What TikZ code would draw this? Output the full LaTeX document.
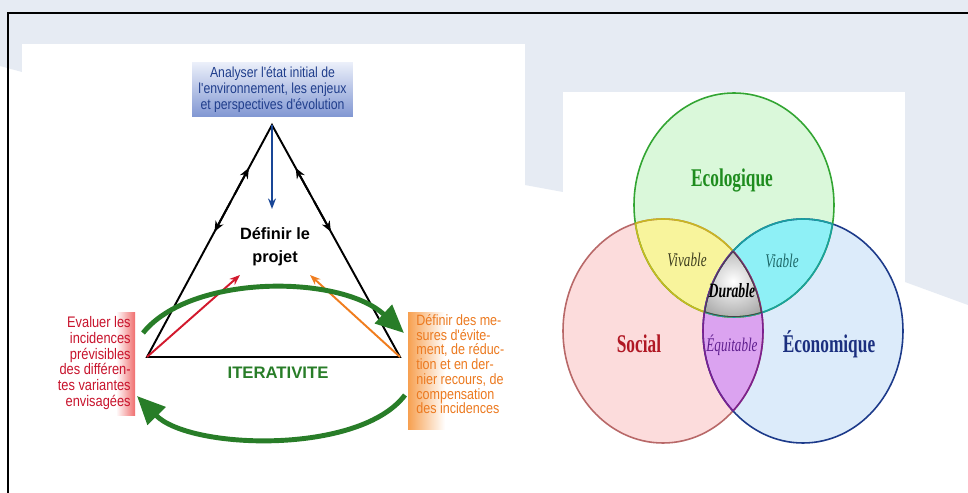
\documentclass[tikz,border=0pt]{standalone}
\usepackage{fontspec}
\setmainfont{Liberation Sans}
\newfontfamily\narrowsf[FakeStretch=0.84]{Liberation Sans}
\newfontfamily\condrm[FakeStretch=0.68]{Liberation Serif}
\usetikzlibrary{arrows.meta,calc}

\definecolor{slidebg}{RGB}{230,235,243}
\definecolor{boxtop}{RGB}{236,240,250}
\definecolor{boxbot}{RGB}{128,150,210}
\definecolor{etatblue}{RGB}{32,62,140}
\definecolor{evalred}{RGB}{200,20,45}
\definecolor{evalpink}{RGB}{240,110,110}
\definecolor{mesorange}{RGB}{236,122,32}
\definecolor{mesband}{RGB}{247,160,80}
\definecolor{itergreen}{RGB}{40,125,40}
\definecolor{arrowblue}{RGB}{25,70,150}
\definecolor{arrowred}{RGB}{210,25,45}
\definecolor{arroworange}{RGB}{240,125,30}
\definecolor{ecofill}{RGB}{218,248,218}
\definecolor{ecoline}{RGB}{50,165,50}
\definecolor{socfill}{RGB}{252,220,220}
\definecolor{socline}{RGB}{184,104,104}
\definecolor{econfill}{RGB}{220,235,250}
\definecolor{econline}{RGB}{28,58,138}
\definecolor{vivfill}{RGB}{248,244,156}
\definecolor{vivline}{RGB}{200,184,32}
\definecolor{viafill}{RGB}{142,240,246}
\definecolor{vialine}{RGB}{25,160,160}
\definecolor{equfill}{RGB}{219,163,240}
\definecolor{equline}{RGB}{122,32,144}
\definecolor{durgrey}{RGB}{165,165,165}
\definecolor{durline}{RGB}{70,70,70}
\definecolor{ecotext}{RGB}{30,140,30}
\definecolor{soctext}{RGB}{176,24,36}
\definecolor{econtext}{RGB}{27,47,127}
\definecolor{vivtext}{RGB}{60,60,30}
\definecolor{viatext}{RGB}{30,105,105}
\definecolor{equtext}{RGB}{95,30,143}

\newcommand\ecoshape{(734,205) ellipse [x radius=100,y radius=112]}
\newcommand\socshape{(663,331) ellipse [x radius=100,y radius=112]}
\newcommand\econshape{(803,331) ellipse [x radius=100,y radius=112]}

\begin{document}
\begin{tikzpicture}[x=0.02cm,y=-0.02cm,
  side/.style={black,line width=1.1pt},
  sidetip/.style={black,line width=1.1pt,-{Stealth[length=6pt,width=5pt]}},
  thinarrow/.style={line width=1.1pt,-{Stealth[length=6pt,width=4.5pt]}},
  iter/.style={itergreen,line width=2.8pt,-{Triangle[length=16pt,width=14pt]}},
  etatbox/.style={minimum width=3.22cm,minimum height=1.1cm,inner sep=0pt,
    top color=boxtop,bottom color=boxbot,text=etatblue,align=center,
    font=\narrowsf\fontsize{8.3}{9}\selectfont},
  evalstyle/.style={align=right,text=evalred,inner sep=0pt,
    font=\narrowsf\fontsize{8.7}{9}\selectfont},
  messtyle/.style={align=left,text=mesorange,inner sep=0pt,
    font=\narrowsf\fontsize{8.5}{8.4}\selectfont},
  projstyle/.style={align=center,inner sep=0pt,font=\bfseries\fontsize{9.3}{13}\selectfont},
  itertext/.style={text=itergreen,inner sep=0pt,font=\bfseries\fontsize{9.5}{11}\selectfont},
  vennbig/.style={inner sep=0pt,font=\condrm\bfseries\fontsize{14.5}{16}\selectfont},
  vennsmall/.style={inner sep=0pt,font=\condrm\itshape\fontsize{11}{13}\selectfont},
  venncircle/.style={line width=0.9pt}]
\useasboundingbox (0,0) rectangle (968,493);
\fill[white] (0,0) rectangle (968,493);
\fill[slidebg] (0,0) -- (968,0) -- (968,305) -- (905,282) -- (563,192) -- (525,185) -- (22,72) -- (0,66) -- cycle;
\fill[white] (22,44) rectangle (525,493);
\fill[white] (563,92) rectangle (905,493);
\draw[line width=1.2pt] (8,493) -- (8,13) -- (968,13);

\node[etatbox] (etat) at (272.5,89.5) {Analyser l'état initial de\\l'environnement, les enjeux\\et perspectives d'évolution};
\coordinate (apex) at (272,125);
\coordinate (bl) at (147,357);
\coordinate (br) at (400,357);
\draw[side] (apex) -- (bl) -- (br) -- cycle;
\draw[sidetip] ($(apex)!0.30!(bl)$) -- ($(apex)!0.185!(bl)$);
\draw[sidetip] ($(apex)!0.33!(bl)$) -- ($(apex)!0.46!(bl)$);
\draw[sidetip] ($(apex)!0.30!(br)$) -- ($(apex)!0.185!(br)$);
\draw[sidetip] ($(apex)!0.33!(br)$) -- ($(apex)!0.46!(br)$);
\node[projstyle,anchor=north] (projet) at (275,227) {Définir le\\projet};
\coordinate (bluetip) at (272,209);
\coordinate (redtip) at (240,275);
\coordinate (orangetip) at (310,275);
\draw[thinarrow,arrowblue] (apex) -- (bluetip);
\draw[thinarrow,arrowred] (bl) -- (redtip);
\draw[thinarrow,arroworange] (br) -- (orangetip);
\node[itertext,anchor=base] (iterativite) at (278,379) {ITERATIVITE};
\coordinate (iterA) at (143,333);
\coordinate (iterB) at (404,333);
\coordinate (iterC) at (405,395);
\coordinate (iterD) at (137,396);
\draw[iter] (iterA) .. controls (190,274) and (340,274) .. (iterB);
\draw[iter] (iterC) .. controls (360,455) and (190,450) .. (iterD);
\fill[left color=white,right color=evalpink] (116,313) rectangle (135,416);
\node[evalstyle,anchor=north east] (evaluer) at (131,316) {Evaluer les\\incidences\\prévisibles\\des différen-\\tes variantes\\envisagées};
\fill[left color=mesband,right color=white] (408,313) rectangle (445,430);
\node[messtyle,anchor=north west] (mesures) at (416,314) {Définir des me-\\sures d'évite-\\ment, de réduc-\\tion et en der-\\nier recours, de\\compensation\\des incidences};

\fill[socfill] \socshape;
\fill[econfill] \econshape;
\fill[ecofill] \ecoshape;
\begin{scope}
\clip \ecoshape;
\fill[vivfill] \socshape;
\fill[viafill] \econshape;
\end{scope}
\begin{scope}
\clip \socshape;
\fill[equfill] \econshape;
\end{scope}
\begin{scope}
\clip \ecoshape;
\clip \socshape;
\clip \econshape;
\shade[inner color=white,outer color=durgrey] (690,240) rectangle (776,322);
\end{scope}
\draw[venncircle,socline] \socshape;
\draw[venncircle,econline] \econshape;
\draw[venncircle,ecoline] \ecoshape;
\begin{scope}
\clip \socshape;
\draw[venncircle,vivline] \ecoshape;
\end{scope}
\begin{scope}
\clip \ecoshape;
\draw[venncircle,vivline] \socshape;
\end{scope}
\begin{scope}
\clip \ecoshape;
\draw[venncircle,vialine] \econshape;
\end{scope}
\begin{scope}
\clip \econshape;
\draw[venncircle,vialine] \ecoshape;
\end{scope}
\begin{scope}
\clip \socshape;
\draw[venncircle,equline] \econshape;
\end{scope}
\begin{scope}
\clip \econshape;
\draw[venncircle,equline] \socshape;
\end{scope}
\begin{scope}
\clip \ecoshape;
\clip \socshape;
\clip \econshape;
\draw[venncircle,durline] \ecoshape;
\draw[venncircle,durline] \socshape;
\draw[venncircle,durline] \econshape;
\end{scope}
\node[vennbig,text=ecotext,anchor=base] (ecologique) at (732,187) {Ecologique};
\node[vennbig,text=soctext,anchor=base] (social) at (639,353) {Social};
\node[vennbig,text=econtext,anchor=base] (economique) at (829,353) {Économique};
\node[vennsmall,text=vivtext,anchor=base] (vivable) at (687,267) {Vivable};
\node[vennsmall,text=viatext,anchor=base] (viable) at (782,268) {Viable};
\node[vennsmall,font=\condrm\bfseries\itshape\fontsize{11.5}{13}\selectfont,anchor=base] (durable) at (732,298) {Durable};
\node[vennsmall,text=equtext,anchor=base] (equitable) at (732,352) {Équitable};
\end{tikzpicture}
\end{document}
